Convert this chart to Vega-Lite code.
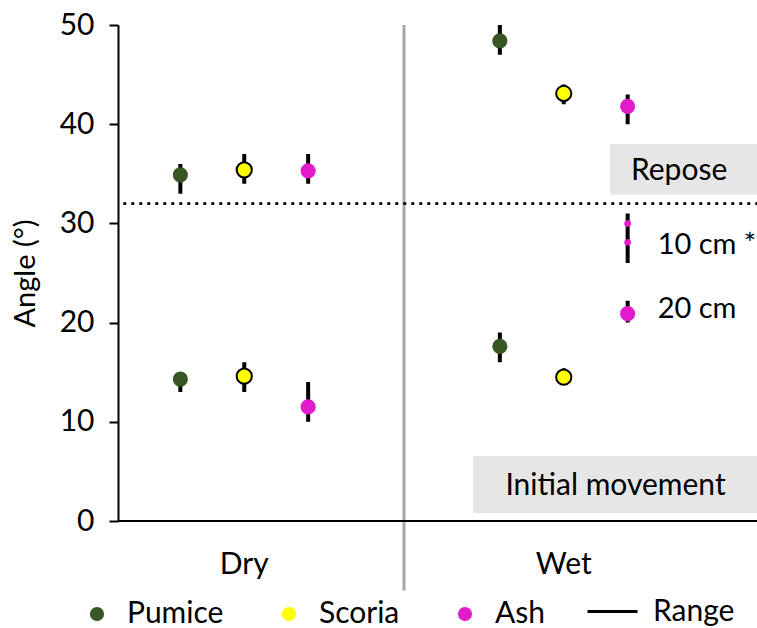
{
  "$schema": "https://vega.github.io/schema/vega-lite/v6.json",
  "width": 639,
  "height": 496,
  "autosize": "none",
  "padding": {"left": 118, "top": 25, "right": 0, "bottom": 107},
  "config": {
    "view": {"stroke": null},
    "font": "Lato",
    "axis": {"labelColor": "black", "titleColor": "black", "grid": false},
    "legend": {"labelColor": "black"}
  },
  "datasets": {
    "angles": [
      {"condition": "Dry", "material": "Pumice", "measure": "Repose", "angle": 34.9, "min": 33, "max": 36},
      {"condition": "Dry", "material": "Scoria", "measure": "Repose", "angle": 35.4, "min": 34, "max": 37},
      {"condition": "Dry", "material": "Ash", "measure": "Repose", "angle": 35.3, "min": 34, "max": 37},
      {"condition": "Dry", "material": "Pumice", "measure": "Initial movement", "angle": 14.3, "min": 13, "max": 15},
      {"condition": "Dry", "material": "Scoria", "measure": "Initial movement", "angle": 14.6, "min": 13, "max": 16},
      {"condition": "Dry", "material": "Ash", "measure": "Initial movement", "angle": 11.5, "min": 10, "max": 14},
      {"condition": "Wet", "material": "Pumice", "measure": "Repose", "angle": 48.4, "min": 47, "max": 50},
      {"condition": "Wet", "material": "Scoria", "measure": "Repose", "angle": 43.1, "min": 42, "max": 44},
      {"condition": "Wet", "material": "Ash", "measure": "Repose", "angle": 41.8, "min": 40, "max": 43},
      {"condition": "Wet", "material": "Pumice", "measure": "Initial movement", "angle": 17.6, "min": 16, "max": 19},
      {"condition": "Wet", "material": "Scoria", "measure": "Initial movement", "angle": 14.5, "min": 14, "max": 15.4},
      {"condition": "Wet", "material": "Ash", "measure": "Initial movement 20 cm", "angle": 20.9, "min": 20, "max": 22.2},
      {"condition": "Wet", "material": "Ash", "measure": "Initial movement 10 cm", "angle": null, "min": 26, "max": 31}
    ],
    "ash10": [
      {"condition": "Wet", "material": "Ash", "angle": 30.0},
      {"condition": "Wet", "material": "Ash", "angle": 28.1}
    ],
    "notes": [
      {"condition": "Wet", "material": "Ash", "angle": 27.8, "label": "10 cm *"},
      {"condition": "Wet", "material": "Ash", "angle": 21.4, "label": "20 cm"}
    ],
    "boxes": [
      {"label": "Repose", "low": 32.9, "high": 38.0, "mid": 35.3},
      {"label": "Initial movement", "low": 0.8, "high": 6.55, "mid": 3.5}
    ]
  },
  "encoding": {
    "y": {
      "type": "quantitative",
      "scale": {"domain": [0, 50], "nice": false, "zero": false},
      "axis": {
        "title": "Angle (°)",
        "values": [0, 10, 20, 30, 40, 50],
        "tickSize": 9,
        "tickWidth": 2,
        "tickColor": "black",
        "domainColor": "black",
        "domainWidth": 2,
        "labelFontSize": 30,
        "labelPadding": 15,
        "titleFontSize": 29,
        "titleFontWeight": "normal",
        "titlePadding": 19
      }
    }
  },
  "layer": [
    {
      "data": {"name": "boxes"},
      "transform": [{"filter": "datum.label === 'Repose'"}],
      "mark": {"type": "rect", "color": "#e6e6e6"},
      "encoding": {
        "x": {"datum": "Wet", "type": "nominal", "bandPosition": 0.645},
        "x2": {"value": "width"},
        "y": {"field": "low", "type": "quantitative"},
        "y2": {"field": "high"}
      }
    },
    {
      "data": {"name": "boxes"},
      "transform": [{"filter": "datum.label === 'Repose'"}],
      "mark": {"type": "text", "fontSize": 30, "color": "black", "align": "center", "baseline": "middle"},
      "encoding": {
        "x": {"datum": "Wet", "type": "nominal", "bandPosition": 0.861},
        "y": {"field": "mid", "type": "quantitative"},
        "text": {"field": "label"}
      }
    },
    {
      "data": {"name": "boxes"},
      "transform": [{"filter": "datum.label === 'Initial movement'"}],
      "mark": {"type": "rect", "color": "#e6e6e6"},
      "encoding": {
        "x": {"datum": "Wet", "type": "nominal", "bandPosition": 0.216},
        "x2": {"value": "width"},
        "y": {"field": "low", "type": "quantitative"},
        "y2": {"field": "high"}
      }
    },
    {
      "data": {"name": "boxes"},
      "transform": [{"filter": "datum.label === 'Initial movement'"}],
      "mark": {"type": "text", "fontSize": 30, "color": "black", "align": "center", "baseline": "middle"},
      "encoding": {
        "x": {"datum": "Wet", "type": "nominal", "bandPosition": 0.662},
        "y": {"field": "mid", "type": "quantitative"},
        "text": {"field": "label"}
      }
    },
    {
      "data": {"values": [{}]},
      "mark": {"type": "rule", "color": "#a6a6a6", "strokeWidth": 3},
      "encoding": {
        "x": {"datum": "Wet", "type": "nominal", "bandPosition": 0},
        "y": {"datum": 50, "type": "quantitative"},
        "y2": {"datum": -7}
      }
    },
    {
      "data": {"values": [{}]},
      "mark": {"type": "rule", "color": "black", "strokeWidth": 3, "strokeDash": [0.5, 7.5], "strokeCap": "round"},
      "encoding": {"y": {"datum": 32, "type": "quantitative"}}
    },
    {
      "data": {"values": [{}]},
      "mark": {"type": "rule", "color": "black", "strokeWidth": 2},
      "encoding": {"y": {"datum": 0, "type": "quantitative"}}
    },
    {
      "data": {"name": "angles"},
      "mark": {"type": "rule", "color": "black", "strokeWidth": 4},
      "encoding": {
        "x": {
          "field": "condition",
          "type": "nominal",
          "scale": {"domain": ["Dry", "Wet"], "range": [-33.5, 605.5], "paddingInner": 0, "paddingOuter": 0},
          "axis": {
            "title": null,
            "domain": false,
            "ticks": false,
            "labelFontSize": 30,
            "labelPadding": 43,
            "labelAngle": 0,
            "labelAlign": "center",
            "bandPosition": 0.5,
            "encode": {
              "labels": {
                "update": {"dx": {"signal": "datum.value === 'Wet' ? -8 : 0"}}
              }
            }
          }
        },
        "xOffset": {
          "field": "material",
          "type": "nominal",
          "scale": {"type": "band", "domain": ["Pumice", "Scoria", "Ash"], "paddingInner": 0, "paddingOuter": 1.016}
        },
        "y": {"field": "min", "type": "quantitative"},
        "y2": {"field": "max"},
        "strokeDash": {
          "datum": "Range",
          "type": "nominal",
          "scale": {"range": [[1, 0]]},
          "legend": {
            "title": null,
            "orient": "none",
            "legendX": 468,
            "legendY": 560,
            "padding": 0,
            "symbolType": "stroke",
            "symbolSize": 2500,
            "symbolStrokeWidth": 3,
            "symbolStrokeColor": "black",
            "labelFontSize": 30,
            "labelOffset": 14
          }
        }
      }
    },
    {
      "data": {"name": "angles"},
      "transform": [{"filter": "datum.angle != null"}],
      "mark": {"type": "point", "filled": true, "opacity": 1, "size": 230, "strokeWidth": 2},
      "encoding": {
        "x": {"field": "condition", "type": "nominal"},
        "xOffset": {"field": "material", "type": "nominal"},
        "y": {"field": "angle", "type": "quantitative"},
        "color": {
          "field": "material",
          "type": "nominal",
          "scale": {"domain": ["Pumice", "Scoria", "Ash"], "range": ["#375623", "#ffff00", "#e31ccb"]},
          "legend": {
            "title": null,
            "orient": "none",
            "direction": "horizontal",
            "legendX": -36,
            "legendY": 574,
            "padding": 0,
            "symbolType": "circle",
            "symbolSize": 200,
            "symbolOpacity": 1,
            "labelFontSize": 30,
            "labelOffset": 15,
            "columnPadding": 50,
            "encode": {
              "symbols": {
                "update": {
                  "stroke": {"signal": "datum.value === 'Scoria' ? 'black' : 'transparent'"},
                  "strokeWidth": {"value": 2}
                }
              }
            }
          }
        },
        "stroke": {
          "condition": {"test": "datum.material === 'Scoria'", "value": "black"},
          "value": "transparent"
        }
      }
    },
    {
      "data": {"name": "ash10"},
      "mark": {"type": "point", "filled": true, "opacity": 1, "size": 45, "color": "#e31ccb"},
      "encoding": {
        "x": {"field": "condition", "type": "nominal"},
        "xOffset": {"field": "material", "type": "nominal"},
        "y": {"field": "angle", "type": "quantitative"}
      }
    },
    {
      "data": {"name": "notes"},
      "mark": {"type": "text", "fontSize": 29, "color": "black", "align": "left", "baseline": "middle", "dx": 30},
      "encoding": {
        "x": {"field": "condition", "type": "nominal"},
        "xOffset": {"field": "material", "type": "nominal"},
        "y": {"field": "angle", "type": "quantitative"},
        "text": {"field": "label"}
      }
    }
  ]
}
